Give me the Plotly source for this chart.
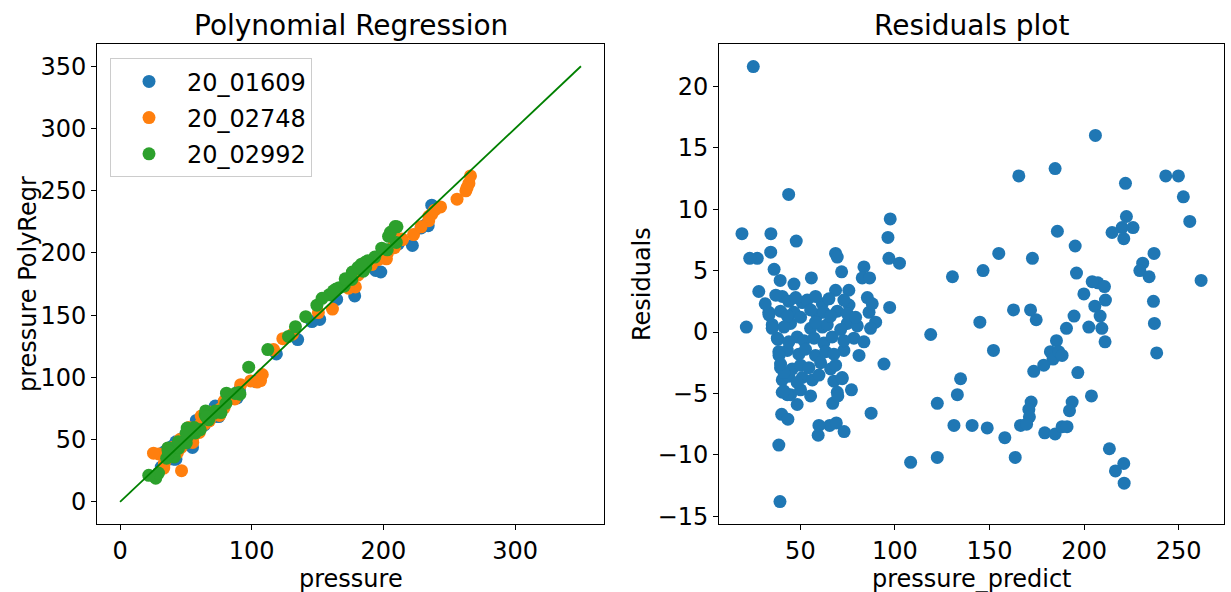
import plotly.graph_objects as go

# ---- series 20_01609 ----
polyregr_01609 = [43.8, 34.4, 34.3, 28.0, 46.6, 33.3, 39.5, 40.1, 68.6, 68.6, 83.6, 77.0, 67.1, 65.5,
                  96.8, 48.3, 118.9, 130.4, 206.0, 165.5, 184.7, 221.9, 222.4, 220.1, 185.9, 146.6,
                  207.3, 236.7, 237.2, 162.7, 174.7, 144.9, 238.4,
                  40.4, 51.0, 61.6, 75.7, 33.4, 46.6, 58.9, 69.5, 86.3, 44.8, 61.6, 74.8, 89.8,
                  48.3, 62.4, 78.3, 43.1, 58.0, 73.0, 45.7, 60.7, 40.4, 51.0, 67.7, 44.8, 69.5]
resid_01609 = [11.2, 8.0, 6.5, 3.3, 3.9, 1.6, -2.9, -6.7, 6.4, 3.4, 5.3, -4.7, -5.8, -7.6,
               6.0, -5.9, -0.2, 4.5, 16.0, 12.7, 13.3, 12.1, 9.4, 8.5, 8.2, 5.0,
               4.0, 2.5, 0.7, 1.8, 1.0, 0.8, -1.7,
               2.9, 2.4, 2.3, 2.2, 1.4, 1.6, 1.4, 1.7, 1.6, 0.7, 0.4, 0.7, 0.8,
               -0.4, -0.9, -0.5, -1.5, -1.9, -1.5, -3.0, -2.5, -3.9, -3.7, -4.0, -5.1, -4.9]
pressure_01609 = [55.0, 42.4, 40.8, 31.3, 50.5, 34.9, 36.6, 33.4, 75.0, 72.0, 88.9, 72.3, 61.3, 57.9,
                  102.8, 42.4, 118.7, 134.9, 222.0, 178.2, 198.0, 234.0, 231.8, 228.6, 194.1, 151.6,
                  211.3, 239.2, 237.9, 164.5, 175.7, 145.7, 236.7,
                  43.3, 53.4, 63.9, 77.9, 34.8, 48.2, 60.3, 71.2, 87.9, 45.5, 62.0, 75.5, 90.6,
                  47.9, 61.5, 77.8, 41.6, 56.1, 71.5, 42.7, 58.2, 36.5, 47.3, 63.7, 39.7, 64.6]

# ---- series 20_02748 ----
polyregr_02748 = [25.1, 47.8, 27.2, 39.3, 55.8, 31.4, 38.1, 40.4, 38.6, 39.2, 69.5, 75.6, 82.7, 94.2,
                  72.1, 59.8, 69.0, 97.5, 96.3, 102.4, 97.2, 122.4, 131.2, 134.7, 243.2, 249.9,
                  252.5, 255.9, 225.9, 214.8, 221.0, 195.3, 154.9, 172.7, 196.0, 237.0, 231.0,
                  229.5, 234.4, 204.3, 210.8, 199.9, 211.3, 205.7, 194.7, 209.4, 190.7, 171.7,
                  211.1, 182.2, 183.6, 152.1, 261.9,
                  43.9, 53.6, 65.1, 85.4, 39.5, 50.1, 62.4, 74.8, 35.1, 55.4, 64.2, 80.1,
                  37.8, 51.9, 66.8, 83.6, 49.2, 63.3, 81.0, 50.1, 66.0, 43.9, 56.3, 72.1, 50.1]
resid_02748 = [21.6, 7.4, 6.0, 4.2, 4.4, 2.3, -0.6, -4.9, -9.2, -13.8, 6.1, 3.4, 4.4, -2.6,
               -3.8, -7.6, -7.4, 9.2, 7.7, 5.6, 2.0, -5.8, -7.6, -3.8, 12.7, 12.7,
               11.0, 9.0, 8.5, 8.1, 7.6, 7.0, 6.4, 6.0, 4.8, 6.4, 5.6,
               5.0, 4.5, 4.1, 3.7, 3.1, 2.6, 2.1, 1.3, 0.3, 0.3, 1.8,
               -0.8, -1.6, -2.2, -1.5, 4.2,
               2.5, 2.6, 2.7, 2.8, 1.7, 1.2, 1.6, 1.5, 0.6, 0.3, 0.6, 0.5,
               -0.5, -0.7, -0.4, -0.8, -1.8, -1.6, -1.9, -2.7, -3.0, -3.6, -3.9, -3.7, -4.7]
pressure_02748 = [46.7, 55.2, 33.2, 43.5, 60.2, 33.7, 37.5, 35.5, 29.4, 25.4, 75.6, 79.0, 87.1, 91.6,
                  68.3, 52.2, 61.6, 106.7, 104.0, 108.0, 99.2, 116.6, 123.6, 130.9, 255.9, 262.6,
                  263.5, 264.9, 234.4, 222.9, 228.6, 202.3, 161.3, 178.7, 200.8, 243.4, 236.6,
                  234.5, 238.9, 208.4, 214.5, 203.0, 213.9, 207.8, 196.0, 209.7, 191.0, 173.5,
                  210.3, 180.6, 181.4, 150.6, 266.1,
                  46.4, 56.2, 67.8, 88.2, 41.2, 51.3, 64.0, 76.3, 35.7, 55.7, 64.8, 80.6,
                  37.3, 51.2, 66.4, 82.8, 47.4, 61.7, 79.1, 47.4, 63.0, 40.3, 52.4, 68.4, 45.4]

# ---- series 20_02992 ----
polyregr_02992 = [19.1, 23.2, 36.1, 37.0, 21.4, 35.1, 38.6, 41.3, 43.1, 43.4, 71.8, 86.6, 87.4, 69.8,
                  59.4, 73.1, 108.3, 122.4, 133.0, 208.5, 202.5, 185.4, 186.6, 188.4, 178.7, 173.4,
                  196.7, 203.9, 172.0, 170.8, 171.1, 193.7, 192.3, 140.8, 148.8, 158.1, 166.4,
                  169.6, 179.2, 184.7, 188.4, 191.0, 163.6, 213.4, 221.0, 216.6, 221.2,
                  47.5, 58.0, 73.0, 88.0, 43.1, 55.4, 66.0, 79.2, 41.3, 58.0, 71.3, 87.1,
                  43.9, 57.2, 73.0, 38.7, 52.7, 67.7, 39.5, 54.5, 68.6, 48.3, 59.8, 41.3, 55.4]
resid_02992 = [8.0, 6.0, 5.1, 3.0, 0.4, 0.3, -1.6, -3.3, -5.1, -7.1, 4.9, 4.4, -6.6, -5.2,
               -8.4, -8.1, -10.6, -10.2, -5.1, 1.3, 0.4, -0.7, -1.6, -1.9, -2.7, -3.2,
               -3.3, -5.2, -5.7, -6.3, -6.9, -5.7, -6.4, -7.6, -7.8, -8.6, -7.6,
               -7.5, -8.2, -8.3, -7.7, -7.7, -10.2, -9.5, -10.7, -11.3, -12.3,
               2.8, 2.9, 2.6, 2.3, 1.3, 1.8, 1.3, 1.2, 0.4, 0.8, 0.2, 0.3,
               -0.8, -0.5, -0.7, -1.9, -1.4, -1.8, -2.6, -2.9, -2.7, -4.1, -3.5, -4.8, -5.2]
pressure_02992 = [27.1, 29.2, 41.2, 40.0, 21.8, 35.4, 37.0, 38.0, 38.0, 36.3, 76.7, 91.0, 80.8, 64.6,
                  51.0, 65.0, 97.7, 112.2, 127.9, 209.8, 202.9, 184.7, 185.0, 186.5, 176.0, 170.2,
                  193.4, 198.7, 166.3, 164.5, 164.2, 188.0, 185.9, 133.2, 141.0, 149.5, 158.8,
                  162.1, 171.0, 176.4, 180.7, 183.3, 153.4, 203.9, 210.3, 205.3, 208.9,
                  50.3, 60.9, 75.6, 90.3, 44.4, 57.2, 67.3, 80.4, 41.7, 58.8, 71.5, 87.4,
                  43.1, 56.7, 72.3, 36.8, 51.3, 65.9, 36.9, 51.6, 65.9, 44.2, 56.3, 36.5, 50.2]

series_names = ["20_01609", "20_02748", "20_02992"]
series_colors = ["#1f77b4", "#ff7f0e", "#2ca02c"]

ident_x = [0, 350]
ident_y = [0, 350]

left_xticks = [0, 100, 200, 300]
left_yticks = [0, 50, 100, 150, 200, 250, 300, 350]
right_xticks = [50, 100, 150, 200, 250]
right_yticks = [-15, -10, -5, 0, 5, 10, 15, 20]

# right panel table built from the series lists
pressure_predict = polyregr_01609 + polyregr_02748 + polyregr_02992
residuals = resid_01609 + resid_02748 + resid_02992

FONT = "DejaVu Sans"
FS = 24
W, H = 1231, 592
L_X0, L_X1 = 97, 604
R_X0, R_X1 = 719, 1224
Y_TOP, Y_BOT = 45, 530

fig = go.Figure()

for xs, ys, nm, col in zip([pressure_01609, pressure_02748, pressure_02992],
                           [polyregr_01609, polyregr_02748, polyregr_02992],
                           series_names, series_colors):
    fig.add_trace(go.Scatter(x=xs, y=ys, mode="markers", name=nm, legendgroup=nm,
                             marker=dict(color=col, size=13, line=dict(width=0)),
                             xaxis="x", yaxis="y"))

fig.add_trace(go.Scatter(x=ident_x, y=ident_y, mode="lines", showlegend=False,
                         line=dict(color="#008000", width=1.8), xaxis="x", yaxis="y"))

fig.add_trace(go.Scatter(x=pressure_predict, y=residuals, mode="markers", showlegend=False,
                         marker=dict(color="#1f77b4", size=13, line=dict(width=0)),
                         xaxis="x2", yaxis="y2"))

def minus(v):
    return str(v).replace("-", "\u2212")

ax_common = dict(showgrid=False, zeroline=False, showline=True, mirror=True,
                 linecolor="black", linewidth=1, ticks="outside", ticklen=5,
                 tickwidth=1, tickcolor="black",
                 tickfont=dict(family=FONT, size=FS, color="black"))

ydom = [1 - Y_BOT / H, 1 - Y_TOP / H]

fig.update_layout(
    width=W, height=H,
    margin=dict(l=0, r=0, t=0, b=0),
    paper_bgcolor="white", plot_bgcolor="white",
    font=dict(family=FONT, size=FS, color="black"),
    xaxis=dict(domain=[L_X0 / W, L_X1 / W], range=[-17.5, 367.5],
               tickvals=left_xticks, ticktext=[str(v) for v in left_xticks], anchor="y", **ax_common),
    yaxis=dict(domain=ydom, range=[-17.5, 367.5],
               tickvals=left_yticks, ticktext=[str(v) for v in left_yticks], anchor="x", **ax_common),
    xaxis2=dict(domain=[R_X0 / W, R_X1 / W], range=[6.96, 274.0],
                tickvals=right_xticks, ticktext=[str(v) for v in right_xticks], anchor="y2", **ax_common),
    yaxis2=dict(domain=ydom, range=[-15.6, 23.4],
                tickvals=right_yticks, ticktext=[minus(v) for v in right_yticks], anchor="x2", **ax_common),
    legend=dict(x=110 / W, y=1 - 59 / H, xanchor="left", yanchor="top",
                bgcolor="rgba(255,255,255,0.8)", bordercolor="#cccccc", borderwidth=1,
                font=dict(family=FONT, size=FS, color="black"),
                tracegroupgap=2, itemwidth=66),
    showlegend=True,
)

def ann(text, xpx, ypx, size, angle=0):
    fig.add_annotation(text=text, x=xpx / W, y=1 - ypx / H, xref="paper", yref="paper",
                       showarrow=False, xanchor="center", yanchor="middle", textangle=angle,
                       font=dict(family=FONT, size=size, color="black"))

ann("Polynomial Regression", (L_X0 + L_X1) / 2, 26, 28)
ann("Residuals plot", (R_X0 + R_X1) / 2, 26, 28)
ann("pressure", (L_X0 + L_X1) / 2, 586, FS)
ann("pressure_predict", (R_X0 + R_X1) / 2, 586, FS)
ann("pressure PolyRegr", 28, (Y_TOP + Y_BOT) / 2, FS, -90)
ann("Residuals", 642, (Y_TOP + Y_BOT) / 2, FS, -90)

fig.write_html("out.html")
